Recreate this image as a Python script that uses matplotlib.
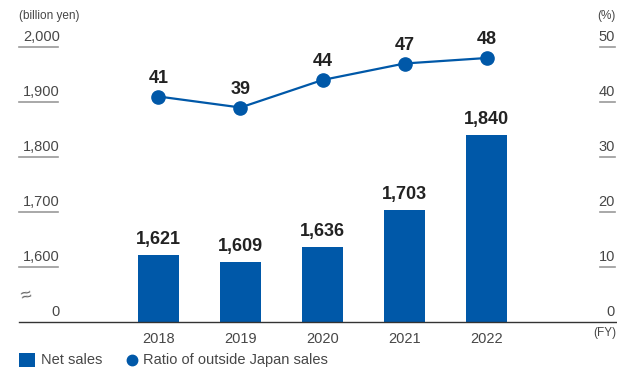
import matplotlib
matplotlib.use("Agg")
import matplotlib.pyplot as plt
import matplotlib.transforms as mtransforms
from matplotlib.lines import Line2D
from matplotlib.patches import Rectangle

plt.rcParams['font.family'] = ['Liberation Sans', 'DejaVu Sans']

years = ["2018", "2019", "2020", "2021", "2022"]
net_sales = [1621, 1609, 1636, 1703, 1840]          # billion yen
overseas_ratio = [41, 39, 44, 47, 48]              # %
left_ticks = [1500, 1600, 1700, 1800, 1900, 2000]
left_tick_labels = ["0", "1,600", "1,700", "1,800", "1,900", "2,000"]
right_ticks = [0, 10, 20, 30, 40, 50]
right_tick_labels = ["0", "10", "20", "30", "40", "50"]

BLUE = "#0058A8"
TEXT = "#474747"
DARK = "#222222"
RULE = "#9a9a9a"

W, H = 617, 381
fig = plt.figure(figsize=(W / 100, H / 100), dpi=100)

def fx(px):
    return px / W

def fy(py):
    return 1 - py / H

ax_left, ax_right, ax_bottom, ax_top = 19, 617, 322, 47
ax = fig.add_axes([fx(ax_left), fy(ax_bottom), fx(ax_right - ax_left), (ax_bottom - ax_top) / H])
ax2 = ax.twinx()

x = list(range(len(years)))
base = left_ticks[0]
ax.bar(x, [v - base for v in net_sales], bottom=base, width=0.5, color=BLUE, zorder=2)
ax.set_ylim(left_ticks[0], left_ticks[-1])
ax.set_xlim(-1.70, 5.59)

for xi, v in zip(x, net_sales):
    ax.annotate(f"{v:,}", (xi, v), xytext=(0, 8), textcoords="offset points",
                ha="center", va="baseline", fontsize=13, fontweight="bold", color=DARK)

ax2.plot(x, overseas_ratio, color=BLUE, lw=1.6, marker="o", markersize=9.5, zorder=3)
ax2.set_ylim(right_ticks[0], right_ticks[-1])
for xi, v in zip(x, overseas_ratio):
    ax2.annotate(f"{v}", (xi, v), xytext=(0, 10), textcoords="offset points",
                 ha="center", va="baseline", fontsize=13, fontweight="bold", color=DARK)

for a in (ax, ax2):
    for s in ("left", "right", "top"):
        a.spines[s].set_visible(False)
    a.set_yticks([])
ax2.spines["bottom"].set_visible(False)
ax.spines["bottom"].set_color("#333333")
ax.spines["bottom"].set_linewidth(1.0)

ax.set_xticks(x)
ax.set_xticklabels(years, fontsize=10.5, color=TEXT)
ax.tick_params(axis="x", length=0, pad=7)

# left value scale with short underlines
lblend = mtransforms.blended_transform_factory(ax.transAxes, ax.transData)
for val, lab in zip(left_ticks, left_tick_labels):
    off = mtransforms.offset_copy(lblend, fig=fig, x=0, y=6, units="dots")
    ax.text((60 - ax_left) / (ax_right - ax_left), val, lab, transform=off,
            ha="right", va="baseline", fontsize=10.5, color=TEXT)
    if val != left_ticks[0]:
        ax.add_line(Line2D([0, (58 - ax_left) / (ax_right - ax_left)], [val, val],
                           transform=lblend, color=RULE, lw=1.2, clip_on=False))

# right percentage scale with short underlines
rblend = mtransforms.blended_transform_factory(ax2.transAxes, ax2.transData)
for val, lab in zip(right_ticks, right_tick_labels):
    off = mtransforms.offset_copy(rblend, fig=fig, x=0, y=6, units="dots")
    ax2.text((615 - ax_left) / (ax_right - ax_left), val, lab, transform=off,
             ha="right", va="baseline", fontsize=10.5, color=TEXT)
    if val != right_ticks[0]:
        ax2.add_line(Line2D([(600 - ax_left) / (ax_right - ax_left),
                             (615 - ax_left) / (ax_right - ax_left)], [val, val],
                            transform=rblend, color=RULE, lw=1.2, clip_on=False))

# axis break mark
fig.text(fx(26), fy(296), "≈", ha="center", va="center", fontsize=14,
         color="#666666", rotation=15)

# unit captions
fig.text(fx(19), fy(16), "(billion yen)", ha="left", va="center", fontsize=8.5, color=TEXT)
fig.text(fx(616), fy(16), "(%)", ha="right", va="center", fontsize=8.5, color=TEXT)
fig.text(fx(616), fy(333), "(FY)", ha="right", va="center", fontsize=8.5, color=TEXT)

# legend
fig.patches.append(Rectangle((fx(19), fy(367)), fx(16), 14 / H, transform=fig.transFigure,
                             facecolor=BLUE, edgecolor="none"))
fig.text(fx(41), fy(360), "Net sales", ha="left", va="center", fontsize=10.5, color=TEXT)
fig.lines.append(Line2D([fx(132)], [fy(360)], transform=fig.transFigure, marker="o",
                        markersize=7.5, color=BLUE, linestyle="none"))
fig.text(fx(143), fy(360), "Ratio of outside Japan sales", ha="left", va="center",
         fontsize=10.5, color=TEXT)

fig.savefig("out.png", dpi=100)
